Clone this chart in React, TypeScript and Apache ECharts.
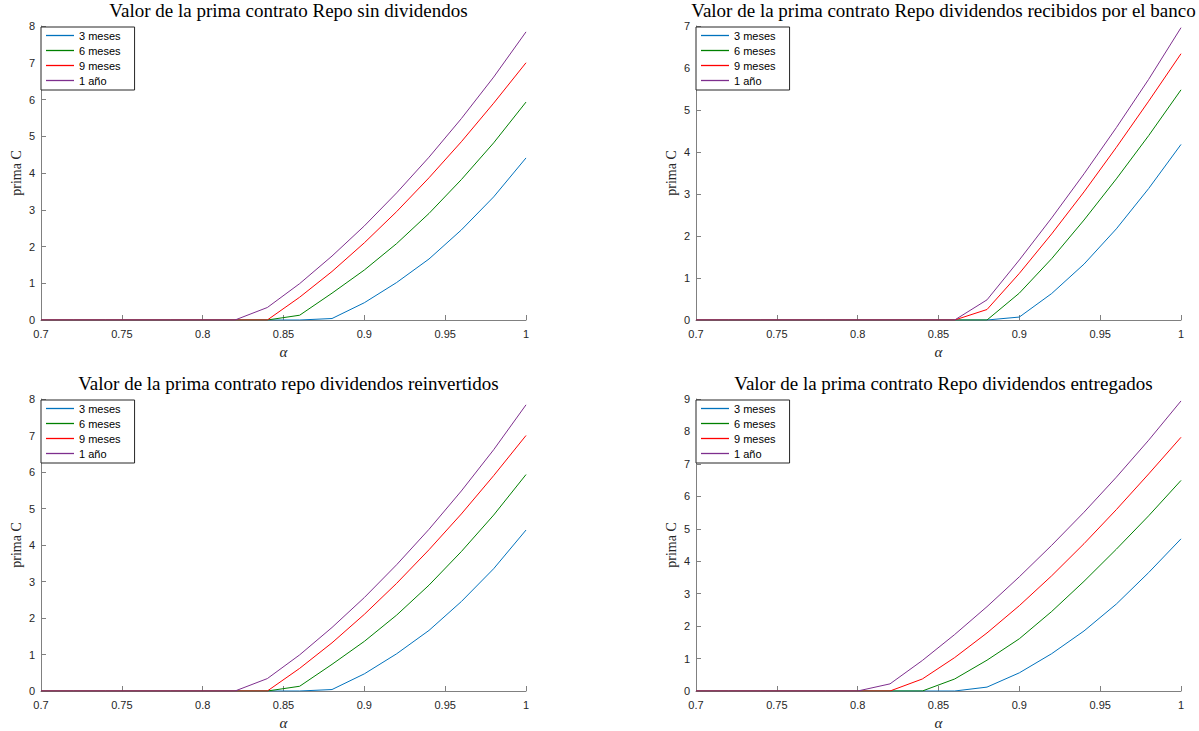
import React, { useEffect, useRef } from "react";
import * as echarts from "echarts";

const alpha = [0.7, 0.72, 0.74, 0.76, 0.78, 0.8, 0.82, 0.84, 0.86, 0.88, 0.9, 0.92, 0.94, 0.96, 0.98, 1.0];
const seriesNames = ["3 meses", "6 meses", "9 meses", "1 año"];
const colors = ["#0072BD", "#008000", "#FF0000", "#7E2F8E"];

const titles = [
  "Valor de la prima contrato Repo sin dividendos",
  "Valor de la prima contrato Repo dividendos recibidos por el banco",
  "Valor de la prima contrato repo dividendos reinvertidos",
  "Valor de la prima contrato Repo dividendos entregados",
];
const yMax = [8, 7, 8, 9];

// Sin dividendos
const sin3m = [0, 0, 0, 0, 0, 0, 0, 0, 0, 0.04, 0.47, 1.02, 1.66, 2.45, 3.35, 4.41];
const sin6m = [0, 0, 0, 0, 0, 0, 0, 0, 0.13, 0.73, 1.36, 2.08, 2.9, 3.82, 4.82, 5.93];
const sin9m = [0, 0, 0, 0, 0, 0, 0, 0, 0.62, 1.32, 2.1, 2.95, 3.87, 4.85, 5.9, 7.0];
const sin1y = [0, 0, 0, 0, 0, 0, 0, 0.34, 0.99, 1.74, 2.56, 3.46, 4.43, 5.48, 6.61, 7.84];

// Dividendos recibidos por el banco
const rec3m = [0, 0, 0, 0, 0, 0, 0, 0, 0, 0, 0.07, 0.63, 1.33, 2.17, 3.13, 4.18];
const rec6m = [0, 0, 0, 0, 0, 0, 0, 0, 0, 0, 0.64, 1.46, 2.38, 3.36, 4.39, 5.48];
const rec9m = [0, 0, 0, 0, 0, 0, 0, 0, 0, 0.25, 1.11, 2.05, 3.05, 4.11, 5.21, 6.34];
const rec1y = [0, 0, 0, 0, 0, 0, 0, 0, 0, 0.48, 1.43, 2.43, 3.48, 4.58, 5.73, 6.96];

// Dividendos reinvertidos
const rei3m = [0, 0, 0, 0, 0, 0, 0, 0, 0, 0.04, 0.47, 1.02, 1.66, 2.45, 3.35, 4.41];
const rei6m = [0, 0, 0, 0, 0, 0, 0, 0, 0.13, 0.73, 1.36, 2.08, 2.9, 3.82, 4.82, 5.93];
const rei9m = [0, 0, 0, 0, 0, 0, 0, 0, 0.62, 1.32, 2.1, 2.95, 3.87, 4.85, 5.9, 7.0];
const rei1y = [0, 0, 0, 0, 0, 0, 0, 0.34, 0.99, 1.74, 2.56, 3.46, 4.43, 5.48, 6.61, 7.84];

// Dividendos entregados
const ent3m = [0, 0, 0, 0, 0, 0, 0, 0, 0, 0.12, 0.56, 1.15, 1.85, 2.68, 3.65, 4.69];
const ent6m = [0, 0, 0, 0, 0, 0, 0, 0, 0.37, 0.95, 1.61, 2.45, 3.38, 4.37, 5.4, 6.49];
const ent9m = [0, 0, 0, 0, 0, 0, 0, 0.37, 1.03, 1.79, 2.63, 3.55, 4.54, 5.59, 6.69, 7.82];
const ent1y = [0, 0, 0, 0, 0, 0, 0.22, 0.94, 1.74, 2.6, 3.52, 4.49, 5.51, 6.59, 7.73, 8.94];

const panels = [
  [sin3m, sin6m, sin9m, sin1y],
  [rec3m, rec6m, rec9m, rec1y],
  [rei3m, rei6m, rei9m, rei1y],
  [ent3m, ent6m, ent9m, ent1y],
];

const gridPos = [
  { left: 41, top: 26 },
  { left: 696, top: 26 },
  { left: 41, top: 399 },
  { left: 696, top: 399 },
];
const GW = 485;
const GH = 294;

const sans = "'Liberation Sans', Arial, Helvetica, sans-serif";
const serif = "'Liberation Serif', 'Times New Roman', serif";
const axisColor = "#808080";
const textColor = "#262626";

export default function App() {
  const ref = useRef<HTMLDivElement>(null);

  useEffect(() => {
    if (!ref.current) return;
    const chart = echarts.init(ref.current, undefined, { renderer: "svg" });

    const grid = gridPos.map((g) => ({ left: g.left, top: g.top, width: GW, height: GH, containLabel: false }));

    const xAxis = gridPos.map((_, i) => ({
      type: "value",
      gridIndex: i,
      min: 0.7,
      max: 1,
      interval: 0.05,
      name: "α",
      nameLocation: "middle",
      nameGap: 24,
      nameTextStyle: { fontFamily: serif, fontStyle: "italic", fontSize: 15, color: textColor },
      axisLine: { show: true, onZero: false, lineStyle: { color: axisColor, width: 1 } },
      axisTick: { show: true, inside: true, length: 5, lineStyle: { color: axisColor } },
      axisLabel: {
        fontFamily: sans,
        fontSize: 11,
        color: textColor,
        margin: 8,
        formatter: (v: number) => String(Number(v.toFixed(2))),
      },
      splitLine: { show: false },
    }));

    const yAxis = gridPos.map((_, i) => ({
      type: "value",
      gridIndex: i,
      min: 0,
      max: yMax[i],
      interval: 1,
      name: "prima C",
      nameLocation: "middle",
      nameGap: 18,
      nameRotate: 90,
      nameTextStyle: { fontFamily: serif, fontSize: 14, color: textColor },
      axisLine: { show: true, lineStyle: { color: axisColor, width: 1 } },
      axisTick: { show: true, inside: true, length: 5, lineStyle: { color: axisColor } },
      axisLabel: { fontFamily: sans, fontSize: 11, color: textColor, margin: 6 },
      splitLine: { show: false },
    }));

    const title = titles.map((t, i) => ({
      text: t,
      left: gridPos[i].left + GW / 2,
      textAlign: "center",
      top: gridPos[i].top - 30,
      textStyle: { fontFamily: serif, fontWeight: "normal", fontSize: 19, color: "#000" },
    }));

    const legend = gridPos.map((g) => ({
      data: seriesNames,
      orient: "vertical",
      left: g.left,
      top: g.top + 1,
      icon: "rect",
      itemWidth: 28,
      itemHeight: 1.3,
      itemGap: 2,
      padding: [2, 14, 3, 5],
      backgroundColor: "#fff",
      borderColor: "#262626",
      borderWidth: 1,
      borderRadius: 0,
      textStyle: { fontFamily: sans, fontSize: 11, color: "#000", lineHeight: 13 },
      selectedMode: false,
    }));

    const series: any[] = [];
    panels.forEach((panel, gi) => {
      panel.forEach((vals, si) => {
        series.push({
          type: "line",
          name: seriesNames[si],
          xAxisIndex: gi,
          yAxisIndex: gi,
          data: alpha.map((a, k) => [a, vals[k]]),
          symbol: "none",
          lineStyle: { color: colors[si], width: 1 },
          itemStyle: { color: colors[si] },
          z: 2 + si,
        });
      });
    });

    chart.setOption({
      animation: false,
      backgroundColor: "#fff",
      title,
      grid,
      xAxis,
      yAxis,
      legend,
      series,
    });

    return () => chart.dispose();
  }, []);

  return (
    <div
      ref={ref}
      style={{ position: "fixed", left: 0, top: 0, width: 1199, height: 731, background: "#fff" }}
    />
  );
}
